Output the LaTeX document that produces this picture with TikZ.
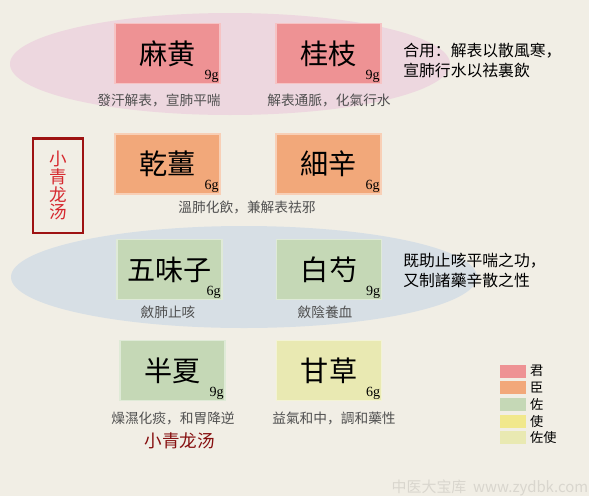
\documentclass[tikz,border=0pt]{standalone}
\usepackage{fontspec}
\setmainfont{Liberation Serif}
\newfontfamily\cjk{Noto Sans CJK SC}
\usetikzlibrary{positioning}

\definecolor{paper}{RGB}{241,238,229}
\definecolor{junred}{RGB}{238,146,148}
\definecolor{chenorange}{RGB}{242,168,122}
\definecolor{zuogreen}{RGB}{197,216,182}
\definecolor{shiyellow}{RGB}{241,232,140}
\definecolor{zuoshi}{RGB}{233,233,178}
\definecolor{pinkband}{RGB}{237,215,223}
\definecolor{blueband}{RGB}{215,223,229}
\definecolor{framered}{RGB}{158,18,18}
\definecolor{titlered}{RGB}{214,40,46}
\definecolor{descgray}{RGB}{80,80,80}

\begin{document}
\begin{tikzpicture}[
    x=0.02cm, y=-0.02cm,
    herb/.style={minimum width=2.1cm, minimum height=1.2cm, inner sep=0pt,
        line width=1pt, font=\cjk\fontsize{16}{16}\selectfont},
    gram/.style={anchor=south east, inner sep=1pt, font=\fontsize{8}{8}\selectfont},
    desc/.style={text=descgray, inner sep=1pt, font=\cjk\fontsize{7.8}{7.8}\selectfont},
    note/.style={anchor=north west, align=left, inner sep=0pt,
        font=\cjk\fontsize{9}{11.5}\selectfont},
    swatch/.style={minimum width=0.52cm, minimum height=0.26cm, inner sep=0pt},
]
    % --- fondo ---
    \fill[paper] (0,0) rectangle (589,496);

    % --- bandas ---
    \fill[pinkband] (230,64) ellipse (220 and 51);
    \fill[blueband] (244,277) ellipse (233 and 51);

    % --- hierbas ---
    \node[herb, fill=junred, draw=junred!55!white] (mahuang) at (167.5,53.5) {麻黄};
    \node[herb, fill=junred, draw=junred!55!white] (guizhi) at (328.5,53.5) {桂枝};
    \node[herb, fill=chenorange, draw=chenorange!55!white] (ganjiang) at (167.5,164) {乾薑};
    \node[herb, fill=chenorange, draw=chenorange!55!white] (xixin) at (328.5,164) {細辛};
    \node[herb, fill=zuogreen, draw=zuogreen!55!white] (wuweizi) at (169.5,269.5) {五味子};
    \node[herb, fill=zuogreen, draw=zuogreen!55!white] (baishao) at (329,269.5) {白芍};
    \node[herb, fill=zuogreen, draw=zuogreen!55!white] (banxia) at (172.5,370.5) {半夏};
    \node[herb, fill=zuoshi, draw=zuoshi!55!white] (gancao) at (329,370.5) {甘草};

    % --- gramos ---
    \node[gram] (g1) at (mahuang.south east) {9g};
    \node[gram] (g2) at (guizhi.south east) {9g};
    \node[gram] (g3) at (ganjiang.south east) {6g};
    \node[gram] (g4) at (xixin.south east) {6g};
    \node[gram] (g5) at (wuweizi.south east) {6g};
    \node[gram] (g6) at (baishao.south east) {9g};
    \node[gram] (g7) at (banxia.south east) {9g};
    \node[gram] (g8) at (gancao.south east) {6g};

    % --- funciones ---
    \node[desc] (d1) at (159,100) {發汗解表，宣肺平喘};
    \node[desc] (d2) at (329,100) {解表通脈，化氣行水};
    \node[desc] (d3) at (247,207) {溫肺化飲，兼解表祛邪};
    \node[desc] (d4) at (168,312) {斂肺止咳};
    \node[desc] (d5) at (325,312) {斂陰養血};
    \node[desc] (d6) at (173,418) {燥濕化痰，和胃降逆};
    \node[desc] (d7) at (334,418) {益氣和中，調和藥性};

    % --- notas ---
    \node[note] (n1) at (403,43) {合用：解表以散風寒，\\宣肺行水以祛裏飲};
    \node[note] (n2) at (403,253) {既助止咳平喘之功，\\又制諸藥辛散之性};

    % --- titulo ---
    \node[draw=framered, line width=1.7pt, minimum width=1cm, minimum height=1.9cm,
        align=center, text=titlered, inner sep=0pt,
        font=\cjk\fontsize{10}{10.2}\selectfont] (titlebox) at (58,185.5) {小\\青\\龙\\汤};
    \node[text=framered!85!black, font=\cjk\fontsize{10}{10}\selectfont] (title) at (180,441) {小青龙汤};

    % --- leyenda ---
    \foreach \i/\c/\t in {0/junred/君, 1/chenorange/臣, 2/zuogreen/佐, 3/shiyellow/使, 4/zuoshi/佐使} {
        \node[swatch, fill=\c] (sw\i) at (513,371+16.7*\i) {};
        \node[right=2pt of sw\i, inner sep=0pt, font=\cjk\fontsize{7.5}{7.5}\selectfont] (lb\i) {\t};
    }

    % --- marca ---
    \node[text=paper!90!black, inner sep=0pt, font=\cjk\fontsize{8.5}{8.5}\selectfont] (mark) at (490,488) {中医大宝库\ \ www.zydbk.com};
\end{tikzpicture}
\end{document}
